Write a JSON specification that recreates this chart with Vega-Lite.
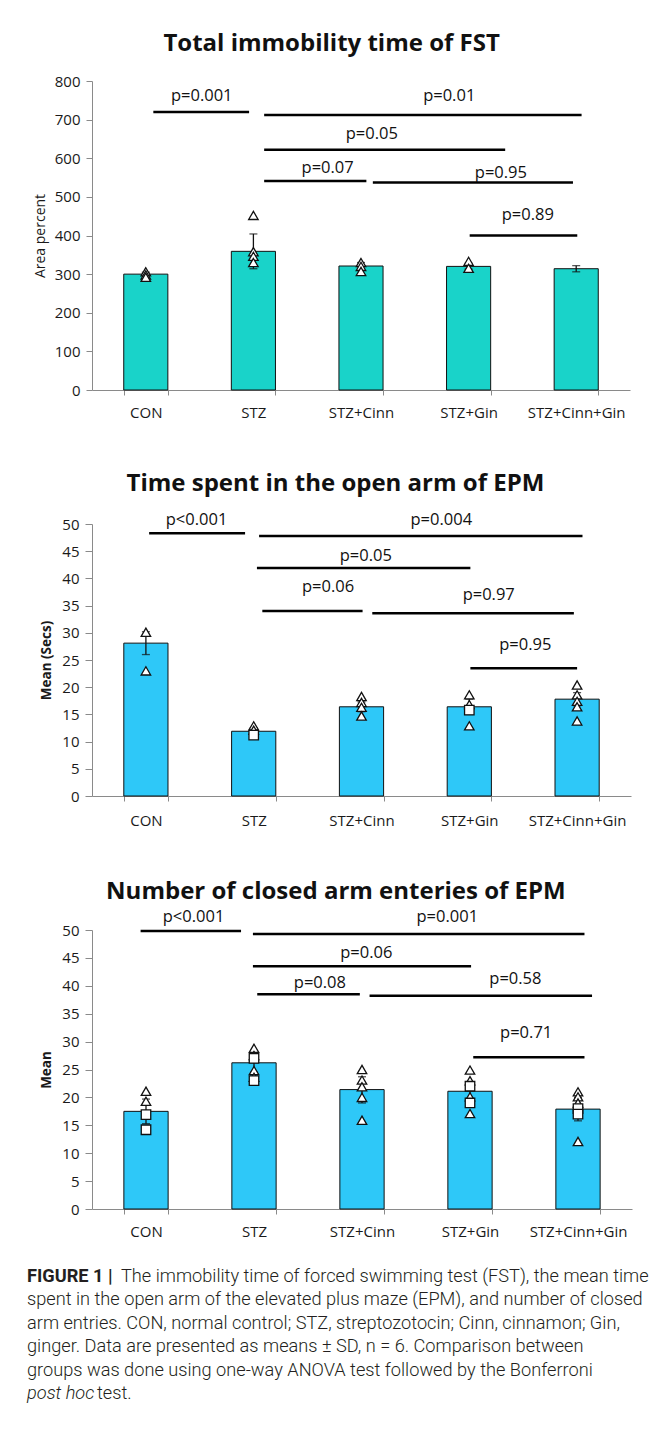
{
  "$schema": "https://vega.github.io/schema/vega-lite/v6.json",
  "background": "white",
  "padding": {"left": 27, "top": 32, "right": 10, "bottom": 10},
  "spacing": 134,
  "bounds": "flush",
  "config": {
    "view": {"stroke": null},
    "font": "Open Sans",
    "axis": {"grid": false, "domainColor": "#8a8a8a", "tickColor": "#8a8a8a", "labelColor": "#1a1a1a", "labelFont": "Open Sans", "titleFont": "Open Sans", "titleColor": "#1a1a1a"},
    "title": {"font": "Open Sans", "fontWeight": "bold", "fontSize": 24, "color": "#111", "anchor": "middle", "frame": "bounds"}
  },
  "datasets": {
    "fst_bars": [
      {"group": "CON", "mean": 300}, {"group": "STZ", "mean": 359}, {"group": "STZ+Cinn", "mean": 321}, {"group": "STZ+Gin", "mean": 320}, {"group": "STZ+Cinn+Gin", "mean": 314}
    ],
    "fst_err": [
      {"group": "CON", "lo": 295, "hi": 305}, {"group": "STZ", "lo": 314, "hi": 404}, {"group": "STZ+Cinn", "lo": 312, "hi": 330}, {"group": "STZ+Gin", "lo": 313, "hi": 328}, {"group": "STZ+Cinn+Gin", "lo": 306, "hi": 322}
    ],
    "fst_pts": [
      {"group": "CON", "value": 306, "marker": "tri"}, {"group": "CON", "value": 298, "marker": "tri"}, {"group": "CON", "value": 292, "marker": "tri"},
      {"group": "STZ", "value": 452, "marker": "tri"}, {"group": "STZ", "value": 358, "marker": "tri"}, {"group": "STZ", "value": 346, "marker": "tri"}, {"group": "STZ", "value": 330, "marker": "tri"},
      {"group": "STZ+Cinn", "value": 330, "marker": "tri"}, {"group": "STZ+Cinn", "value": 320, "marker": "tri"}, {"group": "STZ+Cinn", "value": 307, "marker": "tri"},
      {"group": "STZ+Gin", "value": 333, "marker": "tri"}, {"group": "STZ+Gin", "value": 315, "marker": "tri"}
    ],
    "fst_sig": [
      {"label": "p=0.001", "from": 0.57, "to": 1.46, "y": 720, "lx": 1.02, "ly": 761},
      {"label": "p=0.01", "from": 1.6, "to": 4.55, "y": 712, "lx": 3.32, "ly": 761},
      {"label": "p=0.05", "from": 1.6, "to": 3.84, "y": 622, "lx": 2.6, "ly": 664},
      {"label": "p=0.07", "from": 1.6, "to": 2.55, "y": 541, "lx": 2.19, "ly": 576},
      {"label": "p=0.95", "from": 2.61, "to": 4.47, "y": 537, "lx": 3.8, "ly": 561},
      {"label": "p=0.89", "from": 3.51, "to": 4.51, "y": 400, "lx": 4.05, "ly": 452}
    ],
    "open_bars": [
      {"group": "CON", "mean": 28.1}, {"group": "STZ", "mean": 11.9}, {"group": "STZ+Cinn", "mean": 16.4}, {"group": "STZ+Gin", "mean": 16.4}, {"group": "STZ+Cinn+Gin", "mean": 17.8}
    ],
    "open_err": [
      {"group": "CON", "lo": 26.0, "hi": 30.2}, {"group": "STZ", "lo": 11.3, "hi": 12.5}, {"group": "STZ+Cinn", "lo": 15.5, "hi": 17.3}, {"group": "STZ+Gin", "lo": 15.0, "hi": 17.8}, {"group": "STZ+Cinn+Gin", "lo": 16.6, "hi": 19.0}
    ],
    "open_pts": [
      {"group": "CON", "value": 30.1, "marker": "tri"}, {"group": "CON", "value": 23.0, "marker": "tri"},
      {"group": "STZ", "value": 12.9, "marker": "tri"}, {"group": "STZ", "value": 12.1, "marker": "tri"}, {"group": "STZ", "value": 11.2, "marker": "sq"},
      {"group": "STZ+Cinn", "value": 18.3, "marker": "tri"}, {"group": "STZ+Cinn", "value": 17.2, "marker": "tri"}, {"group": "STZ+Cinn", "value": 16.3, "marker": "tri"}, {"group": "STZ+Cinn", "value": 14.7, "marker": "tri"},
      {"group": "STZ+Gin", "value": 18.6, "marker": "tri"}, {"group": "STZ+Gin", "value": 16.8, "marker": "tri"}, {"group": "STZ+Gin", "value": 15.8, "marker": "sq"}, {"group": "STZ+Gin", "value": 12.9, "marker": "tri"},
      {"group": "STZ+Cinn+Gin", "value": 20.4, "marker": "tri"}, {"group": "STZ+Cinn+Gin", "value": 18.6, "marker": "tri"}, {"group": "STZ+Cinn+Gin", "value": 17.4, "marker": "tri"}, {"group": "STZ+Cinn+Gin", "value": 16.4, "marker": "tri"}, {"group": "STZ+Cinn+Gin", "value": 13.8, "marker": "tri"}
    ],
    "open_sig": [
      {"label": "p<0.001", "from": 0.53, "to": 1.42, "y": 48.3, "lx": 0.97, "ly": 50.7},
      {"label": "p=0.004", "from": 1.55, "to": 4.55, "y": 47.8, "lx": 3.24, "ly": 50.7},
      {"label": "p=0.05", "from": 1.53, "to": 3.51, "y": 41.9, "lx": 2.54, "ly": 44.1},
      {"label": "p=0.06", "from": 1.58, "to": 2.51, "y": 34.0, "lx": 2.19, "ly": 38.4},
      {"label": "p=0.97", "from": 2.6, "to": 4.47, "y": 33.6, "lx": 3.68, "ly": 37.0},
      {"label": "p=0.95", "from": 3.51, "to": 4.5, "y": 23.5, "lx": 4.02, "ly": 27.8}
    ],
    "closed_bars": [
      {"group": "CON", "mean": 17.5}, {"group": "STZ", "mean": 26.2}, {"group": "STZ+Cinn", "mean": 21.4}, {"group": "STZ+Gin", "mean": 21.1}, {"group": "STZ+Cinn+Gin", "mean": 17.9}
    ],
    "closed_err": [
      {"group": "CON", "lo": 15.3, "hi": 19.7}, {"group": "STZ", "lo": 24.5, "hi": 28.0}, {"group": "STZ+Cinn", "lo": 19.0, "hi": 23.7}, {"group": "STZ+Gin", "lo": 19.5, "hi": 22.8}, {"group": "STZ+Cinn+Gin", "lo": 15.8, "hi": 20.0}
    ],
    "closed_pts": [
      {"group": "CON", "value": 21.1, "marker": "tri"}, {"group": "CON", "value": 19.3, "marker": "tri"}, {"group": "CON", "value": 16.9, "marker": "sq"}, {"group": "CON", "value": 14.2, "marker": "sq"},
      {"group": "STZ", "value": 28.8, "marker": "tri"}, {"group": "STZ", "value": 27.5, "marker": "tri"}, {"group": "STZ", "value": 27.0, "marker": "sq"}, {"group": "STZ", "value": 24.8, "marker": "tri"}, {"group": "STZ", "value": 23.6, "marker": "tri"}, {"group": "STZ", "value": 23.0, "marker": "sq"},
      {"group": "STZ+Cinn", "value": 25.0, "marker": "tri"}, {"group": "STZ+Cinn", "value": 23.1, "marker": "tri"}, {"group": "STZ+Cinn", "value": 21.9, "marker": "tri"}, {"group": "STZ+Cinn", "value": 20.0, "marker": "tri"}, {"group": "STZ+Cinn", "value": 15.9, "marker": "tri"},
      {"group": "STZ+Gin", "value": 24.9, "marker": "tri"}, {"group": "STZ+Gin", "value": 23.0, "marker": "tri"}, {"group": "STZ+Gin", "value": 22.0, "marker": "sq"}, {"group": "STZ+Gin", "value": 20.1, "marker": "tri"}, {"group": "STZ+Gin", "value": 19.0, "marker": "sq"}, {"group": "STZ+Gin", "value": 17.1, "marker": "tri"},
      {"group": "STZ+Cinn+Gin", "value": 21.0, "marker": "tri"}, {"group": "STZ+Cinn+Gin", "value": 20.1, "marker": "tri"}, {"group": "STZ+Cinn+Gin", "value": 19.0, "marker": "tri"}, {"group": "STZ+Cinn+Gin", "value": 18.0, "marker": "sq"}, {"group": "STZ+Cinn+Gin", "value": 17.0, "marker": "sq"}, {"group": "STZ+Cinn+Gin", "value": 12.1, "marker": "tri"}
    ],
    "closed_sig": [
      {"label": "p<0.001", "from": 0.45, "to": 1.38, "y": 49.8, "lx": 0.94, "ly": 52.3},
      {"label": "p=0.001", "from": 1.49, "to": 4.56, "y": 49.3, "lx": 3.29, "ly": 52.3},
      {"label": "p=0.06", "from": 1.49, "to": 3.51, "y": 43.5, "lx": 2.54, "ly": 45.9},
      {"label": "p=0.08", "from": 1.53, "to": 2.48, "y": 38.5, "lx": 2.11, "ly": 40.5},
      {"label": "p=0.58", "from": 2.57, "to": 4.63, "y": 38.2, "lx": 3.92, "ly": 41.2},
      {"label": "p=0.71", "from": 3.53, "to": 4.56, "y": 27.2, "lx": 4.02, "ly": 31.5}
    ],
    "caption": [
      {"line": 1, "style": "bold", "text": "FIGURE 1 |"},
      {"line": 1, "style": "rest1", "text": "The immobility time of forced swimming test (FST), the mean time"},
      {"line": 2, "style": "plain", "text": "spent in the open arm of the elevated plus maze (EPM), and number of closed"},
      {"line": 3, "style": "plain", "text": "arm entries. CON, normal control; STZ, streptozotocin; Cinn, cinnamon; Gin,"},
      {"line": 4, "style": "plain", "text": "ginger. Data are presented as means ± SD, n = 6. Comparison between"},
      {"line": 5, "style": "plain", "text": "groups was done using one-way ANOVA test followed by the Bonferroni"},
      {"line": 6, "style": "italic", "text": "post hoc"},
      {"line": 6, "style": "rest6", "text": "test."}
    ]
  },
  "vconcat": [
    {
      "title": {"text": "Total immobility time of FST", "offset": 18},
      "width": 538, "height": 309,
      "resolve": {"scale": {"x": "independent"}},
      "layer": [
        {
          "layer": [
            {
              "data": {"name": "fst_bars"},
              "mark": {"type": "bar", "fill": "#19d3c9", "stroke": "#111", "strokeWidth": 1},
              "encoding": {
                "x": {"field": "group", "type": "nominal", "scale": {"domain": ["CON", "STZ", "STZ+Cinn", "STZ+Gin", "STZ+Cinn+Gin"], "paddingInner": 0.59, "paddingOuter": 0.295},
                      "axis": {"title": null, "labelAngle": 0, "tickBand": "extent", "tickSize": 5, "labelPadding": 10, "labelFontSize": 15}},
                "y": {"field": "mean", "type": "quantitative", "scale": {"domain": [0, 800]},
                      "axis": {"title": "Area percent", "values": [0, 100, 200, 300, 400, 500, 600, 700, 800], "tickSize": 6, "labelPadding": 6, "labelFontSize": 15, "titleFontSize": 14, "titleFontWeight": "normal", "titlePadding": 7}}
              }
            },
            {
              "data": {"name": "fst_err"},
              "mark": {"type": "errorbar", "color": "#111", "thickness": 1.3, "ticks": {"size": 8, "color": "#111"}},
              "encoding": {
                "x": {"field": "group", "type": "nominal"},
                "y": {"field": "lo", "type": "quantitative", "scale": {"domain": [0, 800]},
                      "axis": {"title": "Area percent", "values": [0, 100, 200, 300, 400, 500, 600, 700, 800], "tickSize": 6, "labelPadding": 6, "labelFontSize": 15, "titleFontSize": 14, "titleFontWeight": "normal", "titlePadding": 7}},
                "y2": {"field": "hi"}
              }
            },
            {
              "data": {"name": "fst_pts"},
              "mark": {"type": "point", "filled": false, "fill": "white", "fillOpacity": 1, "stroke": "#111", "strokeWidth": 1.3, "opacity": 1, "size": 90},
              "encoding": {
                "x": {"field": "group", "type": "nominal"},
                "y": {"field": "value", "type": "quantitative", "scale": {"domain": [0, 800]},
                      "axis": {"title": "Area percent", "values": [0, 100, 200, 300, 400, 500, 600, 700, 800], "tickSize": 6, "labelPadding": 6, "labelFontSize": 15, "titleFontSize": 14, "titleFontWeight": "normal", "titlePadding": 7}},
                "shape": {"field": "marker", "type": "nominal", "scale": {"domain": ["tri", "sq"], "range": ["triangle-up", "square"]}, "legend": null}
              }
            }
          ]
        },
        {
          "data": {"name": "fst_sig"},
          "layer": [
            {
              "mark": {"type": "rule", "color": "#000", "strokeWidth": 2.5},
              "encoding": {
                "x": {"field": "from", "type": "quantitative", "scale": {"domain": [0, 5]}, "axis": null},
                "x2": {"field": "to"},
                "y": {"field": "y", "type": "quantitative", "scale": {"domain": [0, 800]},
                      "axis": {"title": "Area percent", "values": [0, 100, 200, 300, 400, 500, 600, 700, 800], "tickSize": 6, "labelPadding": 6, "labelFontSize": 15, "titleFontSize": 14, "titleFontWeight": "normal", "titlePadding": 7}}
              }
            },
            {
              "mark": {"type": "text", "fontSize": 16.5, "color": "#111", "font": "Open Sans"},
              "encoding": {
                "x": {"field": "lx", "type": "quantitative", "scale": {"domain": [0, 5]}, "axis": null},
                "y": {"field": "ly", "type": "quantitative", "scale": {"domain": [0, 800]},
                      "axis": {"title": "Area percent", "values": [0, 100, 200, 300, 400, 500, 600, 700, 800], "tickSize": 6, "labelPadding": 6, "labelFontSize": 15, "titleFontSize": 14, "titleFontWeight": "normal", "titlePadding": 7}},
                "text": {"field": "label"}
              }
            }
          ]
        }
      ]
    },
    {
      "title": {"text": "Time spent in the open arm of EPM", "offset": 16},
      "width": 539, "height": 272,
      "resolve": {"scale": {"x": "independent"}},
      "layer": [
        {
          "layer": [
            {
              "data": {"name": "open_bars"},
              "mark": {"type": "bar", "fill": "#2ec8f8", "stroke": "#111", "strokeWidth": 1},
              "encoding": {
                "x": {"field": "group", "type": "nominal", "scale": {"domain": ["CON", "STZ", "STZ+Cinn", "STZ+Gin", "STZ+Cinn+Gin"], "paddingInner": 0.59, "paddingOuter": 0.295},
                      "axis": {"title": null, "labelAngle": 0, "tickBand": "extent", "tickSize": 5, "labelPadding": 12, "labelFontSize": 15}},
                "y": {"field": "mean", "type": "quantitative", "scale": {"domain": [0, 50]},
                      "axis": {"title": "Mean (Secs)", "values": [0, 5, 10, 15, 20, 25, 30, 35, 40, 45, 50], "tickSize": 7, "labelPadding": 6, "labelFontSize": 15, "titleFontSize": 13.5, "titleFontWeight": "bold", "titlePadding": 8}}
              }
            },
            {
              "data": {"name": "open_err"},
              "mark": {"type": "errorbar", "color": "#111", "thickness": 1.3, "ticks": {"size": 8, "color": "#111"}},
              "encoding": {
                "x": {"field": "group", "type": "nominal"},
                "y": {"field": "lo", "type": "quantitative", "scale": {"domain": [0, 50]},
                      "axis": {"title": "Mean (Secs)", "values": [0, 5, 10, 15, 20, 25, 30, 35, 40, 45, 50], "tickSize": 7, "labelPadding": 6, "labelFontSize": 15, "titleFontSize": 13.5, "titleFontWeight": "bold", "titlePadding": 8}},
                "y2": {"field": "hi"}
              }
            },
            {
              "data": {"name": "open_pts"},
              "mark": {"type": "point", "filled": false, "fill": "white", "fillOpacity": 1, "stroke": "#111", "strokeWidth": 1.3, "opacity": 1, "size": 90},
              "encoding": {
                "x": {"field": "group", "type": "nominal"},
                "y": {"field": "value", "type": "quantitative", "scale": {"domain": [0, 50]},
                      "axis": {"title": "Mean (Secs)", "values": [0, 5, 10, 15, 20, 25, 30, 35, 40, 45, 50], "tickSize": 7, "labelPadding": 6, "labelFontSize": 15, "titleFontSize": 13.5, "titleFontWeight": "bold", "titlePadding": 8}},
                "shape": {"field": "marker", "type": "nominal", "scale": {"domain": ["tri", "sq"], "range": ["triangle-up", "square"]}, "legend": null}
              }
            }
          ]
        },
        {
          "data": {"name": "open_sig"},
          "layer": [
            {
              "mark": {"type": "rule", "color": "#000", "strokeWidth": 2.5},
              "encoding": {
                "x": {"field": "from", "type": "quantitative", "scale": {"domain": [0, 5]}, "axis": null},
                "x2": {"field": "to"},
                "y": {"field": "y", "type": "quantitative", "scale": {"domain": [0, 50]},
                      "axis": {"title": "Mean (Secs)", "values": [0, 5, 10, 15, 20, 25, 30, 35, 40, 45, 50], "tickSize": 7, "labelPadding": 6, "labelFontSize": 15, "titleFontSize": 13.5, "titleFontWeight": "bold", "titlePadding": 8}}
              }
            },
            {
              "mark": {"type": "text", "fontSize": 16.5, "color": "#111", "font": "Open Sans"},
              "encoding": {
                "x": {"field": "lx", "type": "quantitative", "scale": {"domain": [0, 5]}, "axis": null},
                "y": {"field": "ly", "type": "quantitative", "scale": {"domain": [0, 50]},
                      "axis": {"title": "Mean (Secs)", "values": [0, 5, 10, 15, 20, 25, 30, 35, 40, 45, 50], "tickSize": 7, "labelPadding": 6, "labelFontSize": 15, "titleFontSize": 13.5, "titleFontWeight": "bold", "titlePadding": 8}},
                "text": {"field": "label"}
              }
            }
          ]
        }
      ]
    },
    {
      "title": {"text": "Number of closed arm enteries of EPM", "offset": 5},
      "width": 540, "height": 279,
      "resolve": {"scale": {"x": "independent"}},
      "layer": [
        {
          "layer": [
            {
              "data": {"name": "closed_bars"},
              "mark": {"type": "bar", "fill": "#2ec8f8", "stroke": "#111", "strokeWidth": 1},
              "encoding": {
                "x": {"field": "group", "type": "nominal", "scale": {"domain": ["CON", "STZ", "STZ+Cinn", "STZ+Gin", "STZ+Cinn+Gin"], "paddingInner": 0.59, "paddingOuter": 0.295},
                      "axis": {"title": null, "labelAngle": 0, "tickBand": "extent", "tickSize": 5, "labelPadding": 10, "labelFontSize": 15}},
                "y": {"field": "mean", "type": "quantitative", "scale": {"domain": [0, 50]},
                      "axis": {"title": "Mean", "values": [0, 5, 10, 15, 20, 25, 30, 35, 40, 45, 50], "tickSize": 7, "labelPadding": 6, "labelFontSize": 15, "titleFontSize": 13.5, "titleFontWeight": "bold", "titlePadding": 8}}
              }
            },
            {
              "data": {"name": "closed_err"},
              "mark": {"type": "errorbar", "color": "#111", "thickness": 1.3, "ticks": {"size": 8, "color": "#111"}},
              "encoding": {
                "x": {"field": "group", "type": "nominal"},
                "y": {"field": "lo", "type": "quantitative", "scale": {"domain": [0, 50]},
                      "axis": {"title": "Mean", "values": [0, 5, 10, 15, 20, 25, 30, 35, 40, 45, 50], "tickSize": 7, "labelPadding": 6, "labelFontSize": 15, "titleFontSize": 13.5, "titleFontWeight": "bold", "titlePadding": 8}},
                "y2": {"field": "hi"}
              }
            },
            {
              "data": {"name": "closed_pts"},
              "mark": {"type": "point", "filled": false, "fill": "white", "fillOpacity": 1, "stroke": "#111", "strokeWidth": 1.3, "opacity": 1, "size": 90},
              "encoding": {
                "x": {"field": "group", "type": "nominal"},
                "y": {"field": "value", "type": "quantitative", "scale": {"domain": [0, 50]},
                      "axis": {"title": "Mean", "values": [0, 5, 10, 15, 20, 25, 30, 35, 40, 45, 50], "tickSize": 7, "labelPadding": 6, "labelFontSize": 15, "titleFontSize": 13.5, "titleFontWeight": "bold", "titlePadding": 8}},
                "shape": {"field": "marker", "type": "nominal", "scale": {"domain": ["tri", "sq"], "range": ["triangle-up", "square"]}, "legend": null}
              }
            }
          ]
        },
        {
          "data": {"name": "closed_sig"},
          "layer": [
            {
              "mark": {"type": "rule", "color": "#000", "strokeWidth": 2.5},
              "encoding": {
                "x": {"field": "from", "type": "quantitative", "scale": {"domain": [0, 5]}, "axis": null},
                "x2": {"field": "to"},
                "y": {"field": "y", "type": "quantitative", "scale": {"domain": [0, 50]},
                      "axis": {"title": "Mean", "values": [0, 5, 10, 15, 20, 25, 30, 35, 40, 45, 50], "tickSize": 7, "labelPadding": 6, "labelFontSize": 15, "titleFontSize": 13.5, "titleFontWeight": "bold", "titlePadding": 8}}
              }
            },
            {
              "mark": {"type": "text", "fontSize": 16.5, "color": "#111", "font": "Open Sans"},
              "encoding": {
                "x": {"field": "lx", "type": "quantitative", "scale": {"domain": [0, 5]}, "axis": null},
                "y": {"field": "ly", "type": "quantitative", "scale": {"domain": [0, 50]},
                      "axis": {"title": "Mean", "values": [0, 5, 10, 15, 20, 25, 30, 35, 40, 45, 50], "tickSize": 7, "labelPadding": 6, "labelFontSize": 15, "titleFontSize": 13.5, "titleFontWeight": "bold", "titlePadding": 8}},
                "text": {"field": "label"}
              }
            }
          ]
        }
      ]
    },
    {
      "width": 540, "height": 117,
      "data": {"name": "caption"},
      "encoding": {
        "y": {"field": "line", "type": "ordinal", "axis": null, "scale": {"padding": 0}},
        "x": {"value": 0},
        "text": {"field": "text"}
      },
      "layer": [
        {"transform": [{"filter": "datum.style === 'bold'"}], "mark": {"type": "text", "align": "left", "font": "Roboto", "fontSize": 18.2, "fontWeight": "bold", "color": "#231f20", "dx": -65, "dy": -66}},
        {"transform": [{"filter": "datum.style === 'rest1'"}], "mark": {"type": "text", "align": "left", "font": "Roboto", "fontSize": 18.2, "fontWeight": 300, "color": "#231f20", "dx": 29, "dy": -66}},
        {"transform": [{"filter": "datum.style === 'plain'"}], "mark": {"type": "text", "align": "left", "font": "Roboto", "fontSize": 18.2, "fontWeight": 300, "color": "#231f20", "dx": -65, "dy": -66}},
        {"transform": [{"filter": "datum.style === 'italic'"}], "mark": {"type": "text", "align": "left", "font": "Roboto", "fontSize": 18.2, "fontWeight": 300, "fontStyle": "italic", "color": "#231f20", "dx": -65, "dy": -66}},
        {"transform": [{"filter": "datum.style === 'rest6'"}], "mark": {"type": "text", "align": "left", "font": "Roboto", "fontSize": 18.2, "fontWeight": 300, "color": "#231f20", "dx": 5, "dy": -66}}
      ]
    }
  ]
}
